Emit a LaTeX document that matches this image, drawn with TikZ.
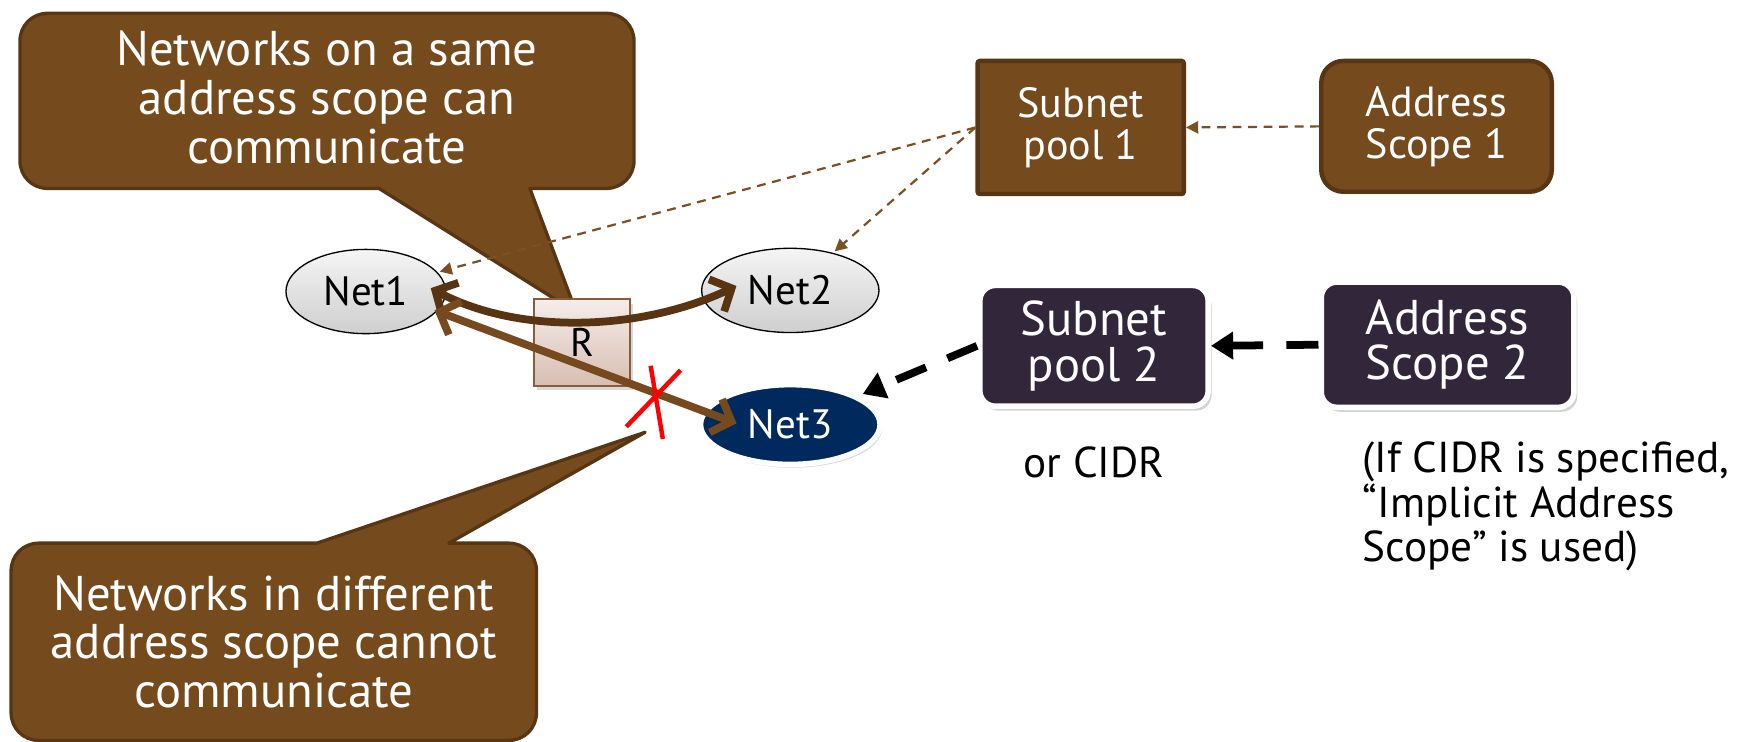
\documentclass[tikz,border=0pt]{standalone}
\usepackage{fontspec}
\setmainfont{PT Sans}
\usetikzlibrary{arrows.meta,shadows,calc,shapes.geometric}

\definecolor{brownfill}{RGB}{117,74,28}
\definecolor{brownline}{RGB}{88,54,20}
\definecolor{curvecol}{RGB}{88,52,18}
\definecolor{linkcol}{RGB}{118,73,30}
\definecolor{dashcol}{RGB}{125,80,35}
\definecolor{navy}{RGB}{0,42,94}
\definecolor{plum}{RGB}{50,38,59}
\definecolor{rtop}{RGB}{245,237,234}
\definecolor{rbot}{RGB}{216,190,178}
\definecolor{rline}{RGB}{140,92,56}

\begin{document}
\begin{tikzpicture}[x=1pt,y=-1pt,
  calloutshape/.style={fill=brownfill,draw=brownline,line width=3pt,line join=round},
  calltext/.style={text=white,align=center,font=\fontsize{44}{44}\selectfont},
  netnode/.style={ellipse,draw=black,line width=1.2pt,top color=gray!8,bottom color=gray!38,
    inner sep=0pt,font=\fontsize{37}{38}\selectfont},
  brownbox/.style={fill=brownfill,draw=brownline,line width=4pt,text=white,align=center,
    inner sep=0pt,font=\fontsize{38}{38}\selectfont},
  darkbox/.style={fill=plum,draw=white,line width=5pt,rounded corners=14pt,text=white,align=center,
    inner sep=0pt,font=\fontsize{44}{41}\selectfont,
    drop shadow={shadow xshift=3pt,shadow yshift=-4pt,opacity=0.35}},
  thinlink/.style={draw=dashcol,line width=2pt,dash pattern=on 8pt off 6pt,
    -{Triangle[length=11pt,width=11pt]}},
  thicklink/.style={draw=black,line width=7pt,dash pattern=on 29pt off 21pt,
    -{Triangle[length=20pt,width=24pt]}},
  bothbarb/.style={line width=7pt,{Straight Barb[length=15pt,width=32pt]}-{Straight Barb[length=15pt,width=32pt]}},
  plaintext/.style={text=black,font=\fontsize{39}{40}\selectfont}
]
\useasboundingbox (0,0) rectangle (1568,669);

% upper speech bubble
\path[calloutshape]
  (43,12) -- (547,12) .. controls (561,12) and (572,23) .. (572,37)
  -- (572,145) .. controls (572,159) and (561,170) .. (547,170)
  -- (478,170) -- (520,282) -- (342,170)
  -- (43,170) .. controls (29,170) and (18,159) .. (18,145)
  -- (18,37) .. controls (18,23) and (29,12) .. (43,12) -- cycle;
\node[calltext] (sametext) at (295,88) {Networks on a same\\address scope can\\communicate};

% lower speech bubble
\path[calloutshape]
  (35,490) -- (286,490) -- (582,390) -- (405,490)
  -- (459,490) .. controls (473,490) and (484,501) .. (484,515)
  -- (484,643) .. controls (484,657) and (473,668) .. (459,668)
  -- (35,668) .. controls (21,668) and (10,657) .. (10,643)
  -- (10,515) .. controls (10,501) and (21,490) .. (35,490) -- cycle;
\node[calltext] (difftext) at (247,579) {Networks in different\\address scope cannot\\communicate};

% router
\node[rectangle,minimum width=87pt,minimum height=78pt,top color=rtop,bottom color=rbot,
  draw=rline,line width=1.5pt,font=\fontsize{36}{38}\selectfont,inner sep=0pt,
  drop shadow={shadow xshift=3pt,shadow yshift=-4pt,opacity=0.3}] (router) at (525,309) {\raisebox{-6pt}{R}};

% networks
\node[netnode,minimum width=144pt,minimum height=76pt] (net1) at (330,263) {Net1};
\node[netnode,minimum width=160pt,minimum height=76pt] (net2) at (713,262) {Net2};
\node[ellipse,fill=navy,draw=white,line width=5pt,minimum width=162pt,minimum height=72pt,
  inner sep=0pt,text=white,font=\fontsize{37}{38}\selectfont,
  drop shadow={shadow xshift=2pt,shadow yshift=-3pt,opacity=0.3}] (net3) at (713,383) {Net3};

% pools and scopes
\node[brownbox,minimum width=186pt,minimum height=120pt,rounded corners=2pt] (sp1) at (975,115) {Subnet\\pool 1};
\node[brownbox,minimum width=208pt,minimum height=118pt,rounded corners=20pt] (as1) at (1296,114) {Address\\Scope 1};
\node[darkbox,minimum width=206pt,minimum height=109pt] (sp2) at (987,312) {Subnet\\pool 2};
\node[darkbox,minimum width=228pt,minimum height=113pt] (as2) at (1306,311) {Address\\Scope 2};

% notes
\node[plaintext] (cidr) at (987,417) {or CIDR};
\node[plaintext,anchor=west,align=left] (implicit) at (1226,457)
  {(If CIDR is specified,\\“Implicit Address\\Scope” is used)};

% associations
\draw[thinlink] (as1.west) -- (sp1.east);
\draw[thinlink,shorten >=2pt] (sp1.west) -- (net1);
\draw[thinlink,shorten >=2pt] (sp1.west) -- (net2);
\draw[thicklink] (as2.west) -- (sp2.east);
\draw[thicklink,shorten >=4pt] (sp2.west) -- (net3);

% traffic between networks
\draw[bothbarb,draw=curvecol] ($(net1.east)+(-14,-3)$) .. controls (470,303) and (580,298) .. ($(net2.west)+(32,-4)$);
\draw[bothbarb,draw=linkcol] ($(net1)+(62,17)$) -- ($(net3.west)+(35,-1)$);

% blocked path mark
\coordinate (blocked) at (592,362);
\draw[red,line width=4pt] ($(blocked)+(-27,23)$) -- ($(blocked)+(22,-28)$);
\draw[red,line width=4pt] ($(blocked)+(-5,-32)$) -- ($(blocked)+(6,34)$);
\end{tikzpicture}
\end{document}
